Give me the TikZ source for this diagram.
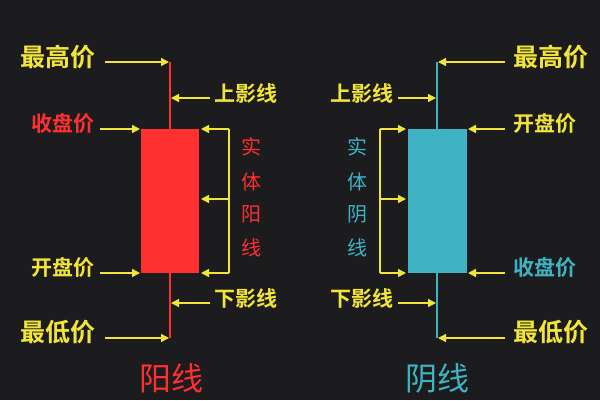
\documentclass[tikz,border=0pt]{standalone}
\usepackage{fontspec}
\newfontfamily\cjk{Noto Sans CJK SC}[BoldFont=* Bold]
\usetikzlibrary{arrows.meta}
\definecolor{bg}{HTML}{1C1C1E}
\definecolor{yel}{HTML}{F2E53A}
\definecolor{rd}{HTML}{FF3030}
\definecolor{bl}{HTML}{3FB3C3}
\begin{document}
\begin{tikzpicture}[x=1pt,y=-1pt,
  lbl/.style={font=\cjk\bfseries\fontsize{25}{25}\selectfont,text=yel,inner sep=0pt},
  mid/.style={font=\cjk\bfseries\fontsize{21}{21}\selectfont},
  vt/.style={font=\cjk\fontsize{20}{20}\selectfont,inner sep=0pt},
  arr/.style={yel,line width=1.4pt,-{Triangle[length=8pt,width=8pt]}},
  br/.style={yel,line width=1.4pt}]
\fill[bg] (0,0) rectangle (600,400);
\useasboundingbox (0,0) rectangle (600,400);
% red candle
\draw[rd,line width=1.5pt] (170,62) -- (170,338);
\fill[rd] (141,129) rectangle (199,273);
\coordinate (rH) at (169,62); \coordinate (rL) at (169,338);
\coordinate (rT) at (140,129); \coordinate (rB) at (140,273);
\coordinate (rUw) at (171,98); \coordinate (rDw) at (171,303);
\node[lbl] (a1) at (58,57) {最高价};
\node[lbl,mid,text=rd] (a2) at (63,124) {收盘价};
\node[lbl,mid] (a3) at (63,268) {开盘价};
\node[lbl] (a4) at (58,332) {最低价};
\node[lbl,mid] (a5) at (246,93) {上影线};
\node[lbl,mid] (a6) at (246,298) {下影线};
\coordinate (s1) at (105,62); \coordinate (s2) at (100,129);
\coordinate (s3) at (100,273); \coordinate (s4) at (105,338);
\coordinate (s5) at (210,98); \coordinate (s6) at (210,303);
\draw[arr] (s1) -- (rH);
\draw[arr] (s2) -- (rT);
\draw[arr] (s3) -- (rB);
\draw[arr] (s4) -- (rL);
\draw[arr] (s5) -- (rUw);
\draw[arr] (s6) -- (rDw);
\coordinate (bt) at (229,129); \coordinate (bm) at (229,199); \coordinate (bb) at (229,273);
\draw[br] (bt) -- (bb);
\draw[arr] (bt) -- (201,129);
\draw[arr] (bm) -- (201,199);
\draw[arr] (bb) -- (201,273);
\node[vt,text=rd] (t1) at (251,147) {实};
\node[vt,text=rd] (t2) at (251,182) {体};
\node[vt,text=rd] (t3) at (251,214) {阳};
\node[vt,text=rd] (t4) at (251,248) {线};
\node[font=\cjk\fontsize{32}{32}\selectfont,text=rd] (n1) at (171,378) {阳线};
% blue candle
\draw[bl,line width=1.5pt] (437,62) -- (437,338);
\fill[bl] (408,129) rectangle (467,273);
\coordinate (bH) at (438,62); \coordinate (bL) at (438,338);
\coordinate (bT) at (468,129); \coordinate (bB) at (468,273);
\coordinate (bUw) at (436,98); \coordinate (bDw) at (436,303);
\node[lbl] (c1) at (551,57) {最高价};
\node[lbl,mid] (c2) at (545,124) {开盘价};
\node[lbl,mid,text=bl] (c3) at (545,268) {收盘价};
\node[lbl] (c4) at (551,332) {最低价};
\node[lbl,mid] (c5) at (362,93) {上影线};
\node[lbl,mid] (c6) at (362,298) {下影线};
\coordinate (u1) at (505,62); \coordinate (u2) at (505,129);
\coordinate (u3) at (505,273); \coordinate (u4) at (505,338);
\coordinate (u5) at (398,98); \coordinate (u6) at (398,303);
\draw[arr] (u1) -- (bH);
\draw[arr] (u2) -- (bT);
\draw[arr] (u3) -- (bB);
\draw[arr] (u4) -- (bL);
\draw[arr] (u5) -- (bUw);
\draw[arr] (u6) -- (bDw);
\coordinate (ct) at (380,129); \coordinate (cm) at (380,199); \coordinate (cb) at (380,273);
\draw[br] (ct) -- (cb);
\draw[arr] (ct) -- (406,129);
\draw[arr] (cm) -- (406,199);
\draw[arr] (cb) -- (406,273);
\node[vt,text=bl] (v1) at (357,147) {实};
\node[vt,text=bl] (v2) at (357,182) {体};
\node[vt,text=bl] (v3) at (357,214) {阴};
\node[vt,text=bl] (v4) at (357,248) {线};
\node[font=\cjk\fontsize{32}{32}\selectfont,text=bl] (n2) at (437,378) {阴线};
\end{tikzpicture}
\end{document}
